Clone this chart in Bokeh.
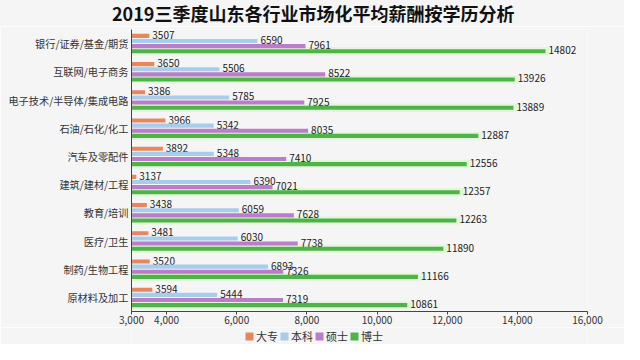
from bokeh.plotting import figure
from bokeh.layouts import column
from bokeh.models import (FactorRange, ColumnDataSource, FixedTicker, NumeralTickFormatter,
                          Legend, LegendItem, Div)
from bokeh.transform import dodge
from bokeh.core.properties import value
from bokeh.embed import file_html
from bokeh.resources import INLINE

title_text = "2019三季度山东各行业市场化平均薪酬按学历分析"
categories = ["银行/证券/基金/期货", "互联网/电子商务", "电子技术/半导体/集成电路", "石油/石化/化工",
              "汽车及零配件", "建筑/建材/工程", "教育/培训", "医疗/卫生", "制药/生物工程", "原材料及加工"]
series_names = ["大专", "本科", "硕士", "博士"]
dazhuan = [3507, 3650, 3386, 3966, 3892, 3137, 3438, 3481, 3520, 3594]
benke = [6590, 5506, 5785, 5342, 5348, 6390, 6059, 6030, 6893, 5444]
shuoshi = [7961, 8522, 7925, 8035, 7410, 7021, 7628, 7738, 7326, 7319]
boshi = [14802, 13926, 13889, 12887, 12556, 12357, 12263, 11890, 11166, 10861]
x_ticks = [3000, 4000, 6000, 8000, 10000, 12000, 14000, 16000]

colors = ["#e6875f", "#a7cdea", "#b97dca", "#4fb34a"]
offsets = [0.273, 0.091, -0.091, -0.273]
FONT = "Noto Sans CJK SC"
BG = "#f5f5f6"

src = ColumnDataSource(dict(cat=categories, s0=dazhuan, s1=benke, s2=shuoshi, s3=boshi,
                            t0=[str(v) for v in dazhuan], t1=[str(v) for v in benke],
                            t2=[str(v) for v in shuoshi], t3=[str(v) for v in boshi],
                            halo=[v + 120 for v in boshi]))

title_div = Div(text=title_text, width=624, height=26, margin=(0, 0, 0, 0),
                styles={"font-family": FONT, "font-size": "18px", "font-weight": "bold",
                        "color": "#111111", "line-height": "26px", "padding-left": "112px",
                        "white-space": "nowrap", "background-color": BG,
                        "box-sizing": "border-box"})

p = figure(width=624, height=301, output_backend="svg", toolbar_location=None,
           x_range=(3000, 16000), y_range=FactorRange(factors=list(reversed(categories))),
           min_border_left=131, min_border_right=37, min_border_bottom=16, min_border_top=3,
           background_fill_color=BG, border_fill_color=BG, outline_line_color=None)
p.xgrid.visible = False
p.ygrid.visible = False

# soft halo behind the green bars
p.hbar(y=dodge("cat", offsets[3], range=p.y_range), left=3000, right="halo", height=0.3,
       source=src, fill_color="#e3f6db", line_color=None)

for i in range(4):
    p.hbar(y=dodge("cat", offsets[i], range=p.y_range), left=3000, right="s%d" % i,
           height=0.145, source=src, fill_color=colors[i], line_color=None)
    p.text(x="s%d" % i, y=dodge("cat", offsets[i], range=p.y_range), text="t%d" % i,
           source=src, x_offset=3, y_offset=-1, text_baseline="middle", text_align="left",
           text_font=value(FONT), text_font_size="10px", text_color="#222222")

p.xaxis.ticker = FixedTicker(ticks=x_ticks)
p.xaxis.formatter = NumeralTickFormatter(format="0,0")
p.xaxis.major_label_text_font = FONT
p.xaxis.major_label_text_font_size = "10px"
p.xaxis.major_label_text_color = "#333333"
p.xaxis.axis_line_color = "#444444"
p.xaxis.major_tick_line_color = "#444444"
p.xaxis.major_tick_out = 3
p.xaxis.major_tick_in = 0
p.xaxis.minor_tick_line_color = None
p.xaxis.major_label_standoff = 1

p.yaxis.major_label_text_font = FONT
p.yaxis.major_label_text_font_size = "10.2px"
p.yaxis.major_label_text_color = "#333333"
p.yaxis.axis_line_color = "#444444"
p.yaxis.major_tick_line_color = None
p.yaxis.major_tick_out = 0
p.yaxis.major_tick_in = 0
p.yaxis.major_label_standoff = 3

# legend strip below the chart (dummy renderers lie outside the visible range)
lg = figure(width=624, height=17, output_backend="svg", toolbar_location=None,
            x_range=(0, 1), y_range=(0, 1), min_border=0,
            x_axis_location=None, y_axis_location=None,
            background_fill_color=BG, border_fill_color=BG, outline_line_color=None)
lg.xgrid.visible = False
lg.ygrid.visible = False
lrs = [lg.hbar(y=[5], left=[5], right=[6], height=0.5, fill_color=colors[i], line_color=None)
       for i in range(4)]
legend = Legend(items=[LegendItem(label=series_names[i], renderers=[lrs[i]]) for i in range(4)],
                location=(113, 0), orientation="horizontal",
                glyph_width=10, glyph_height=10, label_standoff=2, spacing=1,
                padding=0, margin=0, background_fill_alpha=0, border_line_alpha=0,
                label_text_font=FONT, label_text_font_size="11px", label_text_color="#333333",
                label_height=10)
lg.add_layout(legend)

layout = column(title_div, p, lg, spacing=0)
open("out.html", "w").write(file_html(layout, INLINE))
